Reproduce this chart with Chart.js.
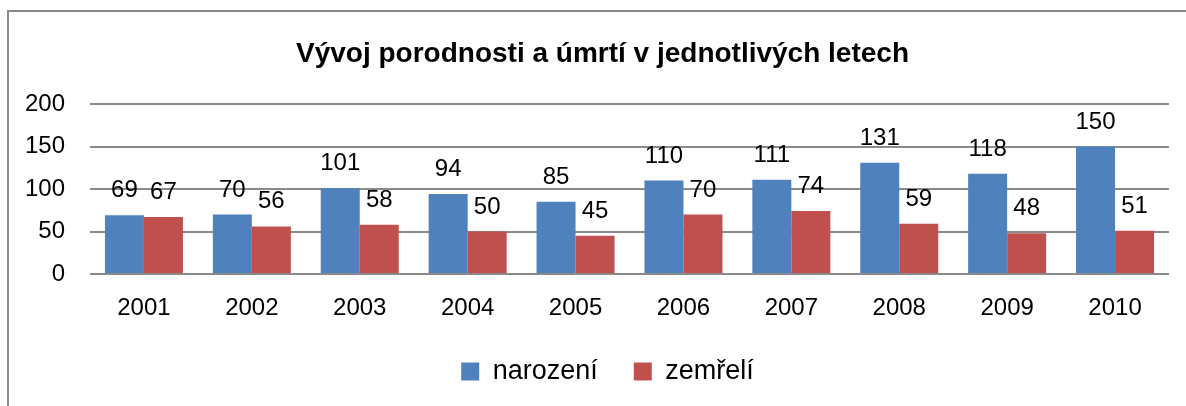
<!DOCTYPE html>
<html lang="cs">
<head>
  <meta charset="UTF-8">
  <title>Vývoj porodnosti a úmrtí</title>
  <script src="https://cdn.jsdelivr.net/npm/chart.js"></script>
  <style>
    html, body { margin:0; padding:0; background:#fff; overflow:hidden; }
    #wrap { position:absolute; left:0; top:0; width:1186px; height:406px; }
    #frame { position:absolute; left:7px; top:10px; width:1300px; height:500px;
             border-left:2px solid #8a8a8a; border-top:2px solid #8a8a8a; pointer-events:none; }
  </style>
</head>
<body>
  <div id="wrap"><canvas id="chart" width="1186" height="406"></canvas></div>
  <div id="frame"></div>
  <script>
    // data
    const years = ['2001','2002','2003','2004','2005','2006','2007','2008','2009','2010'];
    const narozeni = [69, 70, 101, 94, 85, 110, 111, 131, 118, 150];
    const zemreli = [67, 56, 58, 50, 45, 70, 74, 59, 48, 51];
    const yTicks = [0, 50, 100, 150, 200];

    const FONT = 'Liberation Sans';

    // labels above bars
    const barLabels = {
      id: 'barLabels',
      afterDatasetsDraw(chart) {
        const ctx = chart.ctx;
        ctx.save();
        ctx.font = '24px "' + FONT + '"';
        ctx.fillStyle = '#000';
        ctx.textAlign = 'center';
        ctx.textBaseline = 'alphabetic';
        chart.data.datasets.forEach((ds, i) => {
          chart.getDatasetMeta(i).data.forEach((bar, j) => {
            ctx.fillText(ds.data[j], bar.x, bar.y - 18);
          });
        });
        ctx.restore();
      }
    };

    // the original frame is wider than the window, so title and legend sit a bit right
    const shiftBoxes = {
      id: 'shiftBoxes',
      afterLayout(chart) {
        if (chart.titleBlock) chart.titleBlock.left += 36;
        if (chart.legend) chart.legend.left += 46;
      }
    };

    new Chart(document.getElementById('chart').getContext('2d'), {
      type: 'bar',
      data: {
        labels: years,
        datasets: [
          { label: 'narození', data: narozeni, backgroundColor: '#4f81bd' },
          { label: 'zemřelí', data: zemreli, backgroundColor: '#c0504d' }
        ]
      },
      options: {
        responsive: false,
        animation: false,
        layout: { padding: { left: 0, right: 17, top: 0, bottom: 11 } },
        datasets: { bar: { categoryPercentage: 0.723, barPercentage: 1.0 } },
        scales: {
          x: {
            afterFit(scale) { scale.height = 48; },
            grid: { display: false, drawTicks: false },
            border: { display: false },
            ticks: { color: '#000', font: { family: FONT, size: 24 }, padding: 20 }
          },
          y: {
            min: 0, max: 200,
            afterFit(scale) { scale.width = 90; },
            afterBuildTicks(scale) { scale.ticks = yTicks.map(v => ({ value: v })); },
            grid: { color: '#8a8a8a', lineWidth: 2, drawTicks: false },
            border: { display: false },
            ticks: { color: '#000', font: { family: FONT, size: 24 }, padding: 25 }
          }
        },
        plugins: {
          title: {
            display: true,
            text: 'Vývoj porodnosti a úmrtí v jednotlivých letech',
            color: '#000',
            font: { family: FONT, size: 28, weight: 'bold' },
            padding: { top: 37, bottom: 33.4 }
          },
          legend: {
            position: 'bottom',
            labels: { color: '#000', boxWidth: 18, boxHeight: 18, padding: 36,
                      font: { family: FONT, size: 27 } }
          },
          tooltip: { enabled: false }
        }
      },
      plugins: [barLabels, shiftBoxes]
    });
  </script>
</body>
</html>
